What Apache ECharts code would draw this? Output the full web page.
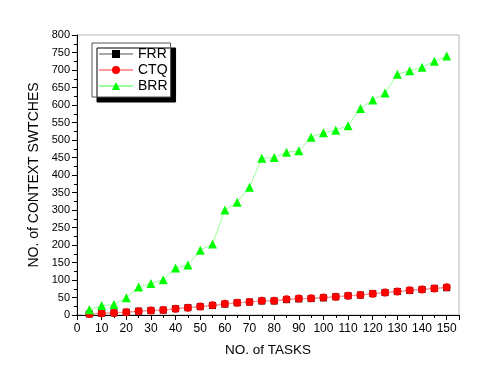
<!DOCTYPE html>
<html>
<head>
<meta charset="utf-8">
<script src="https://cdn.jsdelivr.net/npm/echarts@6/dist/echarts.min.js"></script>
<style>html,body{margin:0;padding:0;background:#fff}#c{width:486px;height:388px}</style>
</head>
<body>
<div id="c"></div>
<script>
const tasks = [5,10,15,20,25,30,35,40,45,50,55,60,65,70,75,80,85,90,95,100,105,110,115,120,125,130,135,140,145,150];
const frr = [3,5,6,8,11,13,14,18,21,24,27,31,35,37,40,40,44,46,47,49,52,55,57,61,64,67,70,73,76,78];
const ctq = [3,5,6,8,11,13,14,18,21,24,28,32,35,37,41,41,45,47,48,50,52,55,57,61,64,67,71,73,76,79];
const brr = [15,27,30,49,80,90,101,134,143,185,203,300,322,365,448,450,465,469,508,521,528,541,590,614,634,688,698,708,725,740];
const seriesNames = ['FRR','CTQ','BRR'];

const pair = a => tasks.map((t,i)=>[t,a[i]]);
const FONT = '"Liberation Sans", Arial, sans-serif';

const chart = echarts.init(document.getElementById('c'), null, {renderer:'canvas'});
chart.setOption({
  animation: false,
  backgroundColor: '#fff',
  grid: {left: 77, right: 27, top: 35, bottom: 73, show: true, borderColor: '#b4b4b4', borderWidth: 1},
  legend: {
    orient: 'vertical', left: 92, top: 43,
    padding: [4, 3, 4, 6],
    itemWidth: 34, itemHeight: 10, itemGap: 2,
    backgroundColor: '#fff', borderColor: '#555', borderWidth: 1,
    shadowColor: '#000', shadowBlur: 0, shadowOffsetX: 5, shadowOffsetY: 5,
    textStyle: {fontFamily: FONT, fontSize: 14, color: '#000', padding: [0,0,0,0]},
    data: seriesNames
  },
  xAxis: {
    type: 'value', min: 0, max: 155, interval: 10,
    name: 'NO. of TASKS', nameLocation: 'middle', nameGap: 28,
    nameTextStyle: {fontFamily: FONT, fontSize: 13.5, color: '#000'},
    axisLine: {show: true, lineStyle: {color: '#000', width: 1}},
    axisTick: {show: true, length: 5, lineStyle: {color: '#000'}},
    minorTick: {show: true, splitNumber: 2, length: 3, lineStyle: {color: '#000'}},
    axisLabel: {fontFamily: FONT, fontSize: 12, color: '#000', margin: 8, showMaxLabel: false},
    splitLine: {show: false}
  },
  yAxis: {
    type: 'value', min: 0, max: 800, interval: 50,
    name: 'NO. of CONTEXT SWTCHES', nameLocation: 'middle', nameGap: 34,
    nameTextStyle: {fontFamily: FONT, fontSize: 14, color: '#000'},
    axisLine: {show: true, lineStyle: {color: '#000', width: 1}},
    axisTick: {show: true, length: 5, lineStyle: {color: '#000'}},
    minorTick: {show: true, splitNumber: 2, length: 3, lineStyle: {color: '#000'}},
    axisLabel: {fontFamily: FONT, fontSize: 11, color: '#000', margin: 7},
    splitLine: {show: false}
  },
  series: [
    {name: 'FRR', type: 'line', data: pair(frr), symbol: 'rect', symbolSize: 7,
     itemStyle: {color: '#000'}, lineStyle: {color: '#a8a8a8', width: 1}, z: 2},
    {name: 'CTQ', type: 'line', data: pair(ctq), symbol: 'circle', symbolSize: 8,
     itemStyle: {color: '#ff0000'}, lineStyle: {color: '#ff9a9a', width: 1}, z: 3},
    {name: 'BRR', type: 'line', data: pair(brr), symbol: 'triangle', symbolSize: 9,
     itemStyle: {color: '#00ff00'}, lineStyle: {color: '#9cff9c', width: 1}, z: 4}
  ]
});
</script>
</body>
</html>
